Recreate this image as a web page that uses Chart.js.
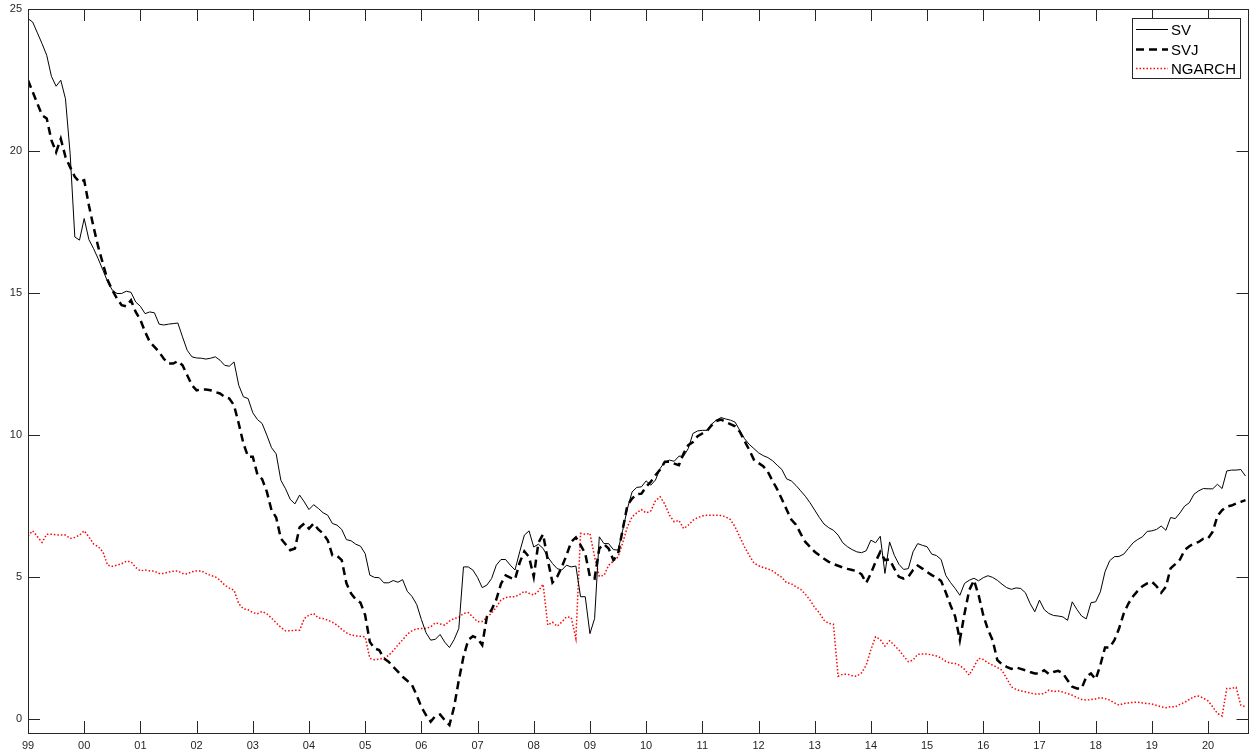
<!DOCTYPE html>
<html>
<head>
<meta charset="utf-8">
<script src="https://cdn.jsdelivr.net/npm/chart.js@4/dist/chart.umd.min.js"></script>
<style>
  html, body { margin: 0; padding: 0; background: #fff; }
  canvas { display: block; }
</style>
</head>
<body>
<canvas id="chart" width="1250" height="755"></canvas>
<script>
// monthly values, Jan 1999 onward
const startYear = 1999;

const sv = [
  24.66, 24.54, 24.16, 23.78, 23.37, 22.63, 22.28, 22.49, 21.84, 19.9,
  16.97, 16.86, 17.62, 16.88, 16.56, 16.2, 15.8, 15.4, 15.1, 14.98,
  14.98, 15.06, 15.02, 14.68, 14.53, 14.27, 14.33, 14.3, 13.9, 13.87,
  13.9, 13.92, 13.94, 13.45, 12.98, 12.75, 12.71, 12.7, 12.67, 12.7,
  12.75, 12.63, 12.45, 12.42, 12.57, 11.75, 11.34, 11.28, 10.78, 10.54,
  10.4, 9.99, 9.55, 9.33, 8.4, 8.1, 7.73, 7.57, 7.88, 7.64,
  7.37, 7.54, 7.41, 7.26, 7.17, 6.88, 6.82, 6.67, 6.31, 6.27,
  6.15, 6.08, 5.82, 5.06, 4.98, 4.97, 4.79, 4.79, 4.87, 4.81,
  4.9, 4.49, 4.31, 4.03, 3.5, 3.03, 2.77, 2.8, 2.97, 2.7,
  2.51, 2.79, 3.18, 5.35, 5.35, 5.24, 4.98, 4.62, 4.71, 4.94,
  5.41, 5.61, 5.61, 5.41, 5.24, 5.88, 6.47, 6.62, 6.05, 6.15,
  6.0, 5.7, 5.47, 5.29, 5.24, 5.41, 5.35, 5.38, 4.3, 4.3,
  3.0, 3.53, 6.41, 6.17, 6.17, 5.96, 5.94, 6.64, 7.4, 7.99,
  8.15, 8.17, 8.38, 8.23, 8.41, 8.82, 9.05, 9.11, 9.07, 9.25,
  9.25, 9.52, 10.05, 10.14, 10.16, 10.16, 10.38, 10.52, 10.61, 10.56,
  10.52, 10.45, 10.16, 9.87, 9.67, 9.52, 9.37, 9.27, 9.2, 9.09,
  8.93, 8.78, 8.45, 8.38, 8.22, 8.03, 7.84, 7.61, 7.35, 7.09,
  6.86, 6.73, 6.64, 6.47, 6.2, 6.06, 5.96, 5.88, 5.85, 5.92,
  6.29, 6.2, 6.43, 5.12, 6.23, 5.76, 5.44, 5.26, 5.29, 5.88,
  6.17, 6.11, 6.06, 5.8, 5.75, 5.61, 5.05, 4.8, 4.59, 4.35,
  4.77, 4.88, 4.95, 4.86, 4.97, 5.04, 4.98, 4.88, 4.74, 4.62,
  4.56, 4.61, 4.59, 4.44, 4.06, 3.77, 4.18, 3.85, 3.71, 3.64,
  3.62, 3.59, 3.47, 4.12, 3.85, 3.62, 3.52, 4.09, 4.12, 4.47,
  5.18, 5.57, 5.71, 5.72, 5.8, 6.0, 6.2, 6.32, 6.41, 6.6,
  6.62, 6.67, 6.79, 6.64, 7.09, 7.05, 7.25, 7.49, 7.61, 7.91,
  8.03, 8.11, 8.1, 8.1, 8.26, 8.11, 8.73, 8.76, 8.76, 8.78,
  8.55
];

const svj = [
  22.49, 22.08, 21.67, 21.26, 21.14, 20.38, 19.96, 20.43, 19.79, 19.43,
  19.09, 18.91, 18.97, 18.09, 17.32, 16.62, 16.03, 15.45, 15.1, 14.8,
  14.57, 14.53, 14.74, 14.33, 14.05, 13.63, 13.28, 13.1, 12.92, 12.68,
  12.51, 12.51, 12.6, 12.45, 12.1, 11.75, 11.57, 11.6, 11.6, 11.57,
  11.51, 11.46, 11.34, 11.28, 11.04, 10.4, 9.7, 9.23, 9.23, 8.6,
  8.44, 8.0, 7.35, 7.09, 6.35, 6.15, 5.94, 6.0, 6.74, 6.88,
  6.7, 6.88, 6.67, 6.53, 6.29, 5.76, 5.74, 5.59, 4.77, 4.41,
  4.2, 4.09, 3.65, 2.71, 2.48, 2.42, 2.13, 2.01, 1.83, 1.66,
  1.48, 1.34, 1.19, 0.83, 0.42, 0.13, -0.1, 0.1, 0.15, -0.05,
  -0.22, 0.42, 1.36, 2.19, 2.77, 2.91, 2.83, 2.6, 3.6, 3.84,
  4.2, 4.75, 5.05, 4.97, 4.91, 5.5, 5.9, 5.7, 5.0, 6.2,
  6.5, 5.59, 4.8, 5.0, 5.35, 5.76, 6.23, 6.39, 6.12, 5.82,
  5.0, 4.94, 6.0, 6.15, 6.0, 5.59, 5.8, 6.67, 7.52, 7.76,
  7.91, 7.93, 8.17, 8.35, 8.58, 8.78, 9.05, 9.05, 8.99, 8.93,
  9.34, 9.64, 9.75, 9.95, 10.05, 10.14, 10.34, 10.49, 10.54, 10.46,
  10.38, 10.3, 10.11, 9.79, 9.48, 9.13, 9.01, 8.9, 8.7, 8.38,
  8.08, 7.73, 7.37, 7.02, 6.84, 6.52, 6.23, 6.06, 5.88, 5.76,
  5.64, 5.53, 5.45, 5.39, 5.33, 5.28, 5.24, 5.2, 5.09, 4.79,
  5.12, 5.53, 5.88, 5.59, 5.61, 5.29, 5.0, 4.94, 5.0, 5.24,
  5.4, 5.29, 5.17, 5.06, 4.98, 4.85, 4.45, 4.0, 3.6, 2.77,
  3.71, 4.53, 4.88, 4.36, 3.65, 3.14, 2.77, 2.07, 1.92, 1.83,
  1.76, 1.81, 1.76, 1.71, 1.65, 1.6, 1.6, 1.71, 1.58, 1.65,
  1.69, 1.6, 1.36, 1.13, 1.07, 1.07, 1.48, 1.6, 1.39, 1.89,
  2.51, 2.51, 2.77, 3.18, 3.71, 4.06, 4.32, 4.51, 4.67, 4.77,
  4.83, 4.67, 4.44, 4.65, 5.3, 5.45, 5.61, 5.94, 6.08, 6.17,
  6.23, 6.34, 6.35, 6.59, 7.14, 7.35, 7.47, 7.51, 7.58, 7.64,
  7.7
];

const ngarch = [
  6.44, 6.62, 6.42, 6.21, 6.5, 6.5, 6.48, 6.47, 6.47, 6.35,
  6.39, 6.47, 6.62, 6.41, 6.16, 6.06, 5.88, 5.41, 5.37, 5.41,
  5.46, 5.55, 5.53, 5.33, 5.21, 5.24, 5.21, 5.2, 5.12, 5.12,
  5.17, 5.2, 5.21, 5.12, 5.1, 5.18, 5.21, 5.21, 5.12, 5.05,
  5.0, 4.88, 4.71, 4.6, 4.53, 4.06, 3.87, 3.84, 3.74, 3.7,
  3.78, 3.7, 3.55, 3.38, 3.22, 3.1, 3.1, 3.12, 3.12, 3.53,
  3.65, 3.71, 3.55, 3.53, 3.48, 3.4, 3.3, 3.15, 3.03, 2.95,
  2.92, 2.91, 2.89, 2.13, 2.08, 2.1, 2.14, 2.23, 2.4, 2.6,
  2.78, 2.98, 3.1, 3.17, 3.18, 3.18, 3.24, 3.38, 3.34, 3.3,
  3.44, 3.53, 3.57, 3.71, 3.74, 3.59, 3.42, 3.43, 3.57, 3.72,
  3.93, 4.18, 4.27, 4.3, 4.3, 4.38, 4.49, 4.42, 4.36, 4.5,
  4.74, 3.3, 3.4, 3.26, 3.41, 3.59, 3.57, 2.83, 6.53, 6.5,
  6.53, 5.7, 5.02, 5.05, 5.41, 5.55, 5.7, 6.2, 6.76, 7.11,
  7.25, 7.37, 7.25, 7.32, 7.68, 7.82, 7.56, 7.17, 6.94, 6.99,
  6.7, 6.82, 6.99, 7.09, 7.14, 7.17, 7.17, 7.17, 7.16, 7.11,
  7.02, 6.76, 6.41, 6.06, 5.76, 5.49, 5.39, 5.33, 5.28, 5.21,
  5.09, 4.98, 4.79, 4.76, 4.65, 4.56, 4.39, 4.18, 3.92, 3.73,
  3.47, 3.36, 3.33, 1.5, 1.57, 1.57, 1.52, 1.5, 1.62, 1.89,
  2.44, 2.89, 2.79, 2.56, 2.75, 2.59, 2.42, 2.21, 2.01, 2.07,
  2.27, 2.28, 2.28, 2.25, 2.21, 2.14, 2.02, 1.96, 1.95, 1.88,
  1.74, 1.54, 1.83, 2.13, 2.09, 1.97, 1.89, 1.81, 1.71, 1.42,
  1.13, 1.03, 0.98, 0.95, 0.91, 0.87, 0.87, 0.89, 1.01, 0.96,
  0.98, 0.94, 0.89, 0.83, 0.75, 0.68, 0.66, 0.68, 0.7, 0.75,
  0.71, 0.66, 0.56, 0.48, 0.54, 0.56, 0.58, 0.58, 0.56, 0.54,
  0.52, 0.47, 0.42, 0.39, 0.43, 0.42, 0.51, 0.58, 0.68, 0.78,
  0.8, 0.73, 0.63, 0.42, 0.19, 0.1, 1.07, 1.07, 1.11, 0.48,
  0.42
];

const xTickYears = [1999, 2000, 2001, 2002, 2003, 2004, 2005, 2006, 2007, 2008, 2009,
  2010, 2011, 2012, 2013, 2014, 2015, 2016, 2017, 2018, 2019, 2020];
const xTickLabels = ['99', '00', '01', '02', '03', '04', '05', '06', '07', '08', '09',
  '10', '11', '12', '13', '14', '15', '16', '17', '18', '19', '20'];
const yTicks = [0, 5, 10, 15, 20, 25];

const axisColor = '#262626';
const tickFont = { family: 'Liberation Sans, Arial, Helvetica, sans-serif', size: 11 };

const toPoints = arr => arr.map((v, i) => ({ x: startYear + i / 12, y: v }));

const series = [
  { label: 'SV', data: sv, color: '#000000', width: 1, dash: [] },
  { label: 'SVJ', data: svj, color: '#000000', width: 2.5, dash: [8, 5] },
  { label: 'NGARCH', data: ngarch, color: '#ff0000', width: 1.5, dash: [1.5, 2] }
];

// box, inward ticks on all sides, and the legend
const matlabAxes = {
  id: 'matlabAxes',
  afterDraw(chart) {
    const { ctx, chartArea: a, scales } = chart;
    const len = 12;
    ctx.save();
    ctx.strokeStyle = axisColor;
    ctx.lineWidth = 1;
    ctx.beginPath();
    xTickYears.forEach(yr => {
      const px = Math.round(scales.x.getPixelForValue(yr)) + 0.5;
      ctx.moveTo(px, a.bottom); ctx.lineTo(px, a.bottom - len);
      ctx.moveTo(px, a.top); ctx.lineTo(px, a.top + len);
    });
    yTicks.forEach(v => {
      const py = Math.round(scales.y.getPixelForValue(v)) + 0.5;
      ctx.moveTo(a.left, py); ctx.lineTo(a.left + len, py);
      ctx.moveTo(a.right, py); ctx.lineTo(a.right - len, py);
    });
    ctx.stroke();
    ctx.strokeRect(Math.round(a.left) + 0.5, Math.round(a.top) + 0.5,
      Math.round(a.right - a.left) - 1, Math.round(a.bottom - a.top));

    // legend
    const lx = 1132.5, ly = 18.5, lw = 108, lh = 60;
    ctx.fillStyle = '#fff';
    ctx.fillRect(lx, ly, lw, lh);
    ctx.strokeStyle = axisColor;
    ctx.lineWidth = 1;
    ctx.strokeRect(lx, ly, lw, lh);
    ctx.font = '15px Liberation Sans, Arial, Helvetica, sans-serif';
    ctx.textBaseline = 'middle';
    ctx.textAlign = 'left';
    const rows = [29.5, 49.5, 68.5];
    series.forEach((s, k) => {
      ctx.beginPath();
      ctx.strokeStyle = s.color;
      ctx.lineWidth = s.width;
      ctx.setLineDash(s.dash);
      ctx.moveTo(1136, rows[k]);
      ctx.lineTo(1168, rows[k]);
      ctx.stroke();
      ctx.setLineDash([]);
      ctx.fillStyle = '#000';
      ctx.fillText(s.label, 1171, rows[k] + 1);
    });
    ctx.restore();
  }
};

new Chart(document.getElementById('chart'), {
  type: 'line',
  data: {
    datasets: series.map(s => ({
      label: s.label,
      data: toPoints(s.data),
      borderColor: s.color,
      borderWidth: s.width,
      borderDash: s.dash,
      pointRadius: 0,
      tension: 0,
      fill: false
    }))
  },
  options: {
    responsive: false,
    animation: false,
    devicePixelRatio: 1,
    layout: { padding: { left: 0, right: 1.5, top: 9, bottom: 0 } },
    plugins: {
      legend: { display: false },
      tooltip: { enabled: false }
    },
    scales: {
      x: {
        type: 'linear',
        min: 1999,
        max: 2020.72,
        grid: { display: false, drawTicks: false },
        border: { display: false },
        afterBuildTicks: axis => { axis.ticks = xTickYears.map(v => ({ value: v })); },
        afterFit: axis => {
          axis.height = 22;
          axis.paddingLeft = 0;
          axis.paddingRight = 0;
          axis.paddingTop = 0;
          axis.paddingBottom = 0;
        },
        ticks: {
          autoSkip: false,
          maxRotation: 0,
          padding: 6,
          color: axisColor,
          font: tickFont,
          callback: v => xTickLabels[xTickYears.indexOf(v)]
        }
      },
      y: {
        min: -0.5,
        max: 25,
        grid: { display: false, drawTicks: false },
        border: { display: false },
        afterBuildTicks: axis => { axis.ticks = yTicks.map(v => ({ value: v })); },
        afterFit: axis => {
          axis.width = 28;
          axis.paddingTop = 0;
          axis.paddingBottom = 0;
          axis.paddingLeft = 0;
          axis.paddingRight = 0;
        },
        ticks: {
          padding: 6,
          color: axisColor,
          font: tickFont,
          callback: v => String(v)
        }
      }
    }
  },
  plugins: [matlabAxes]
});
</script>
</body>
</html>
